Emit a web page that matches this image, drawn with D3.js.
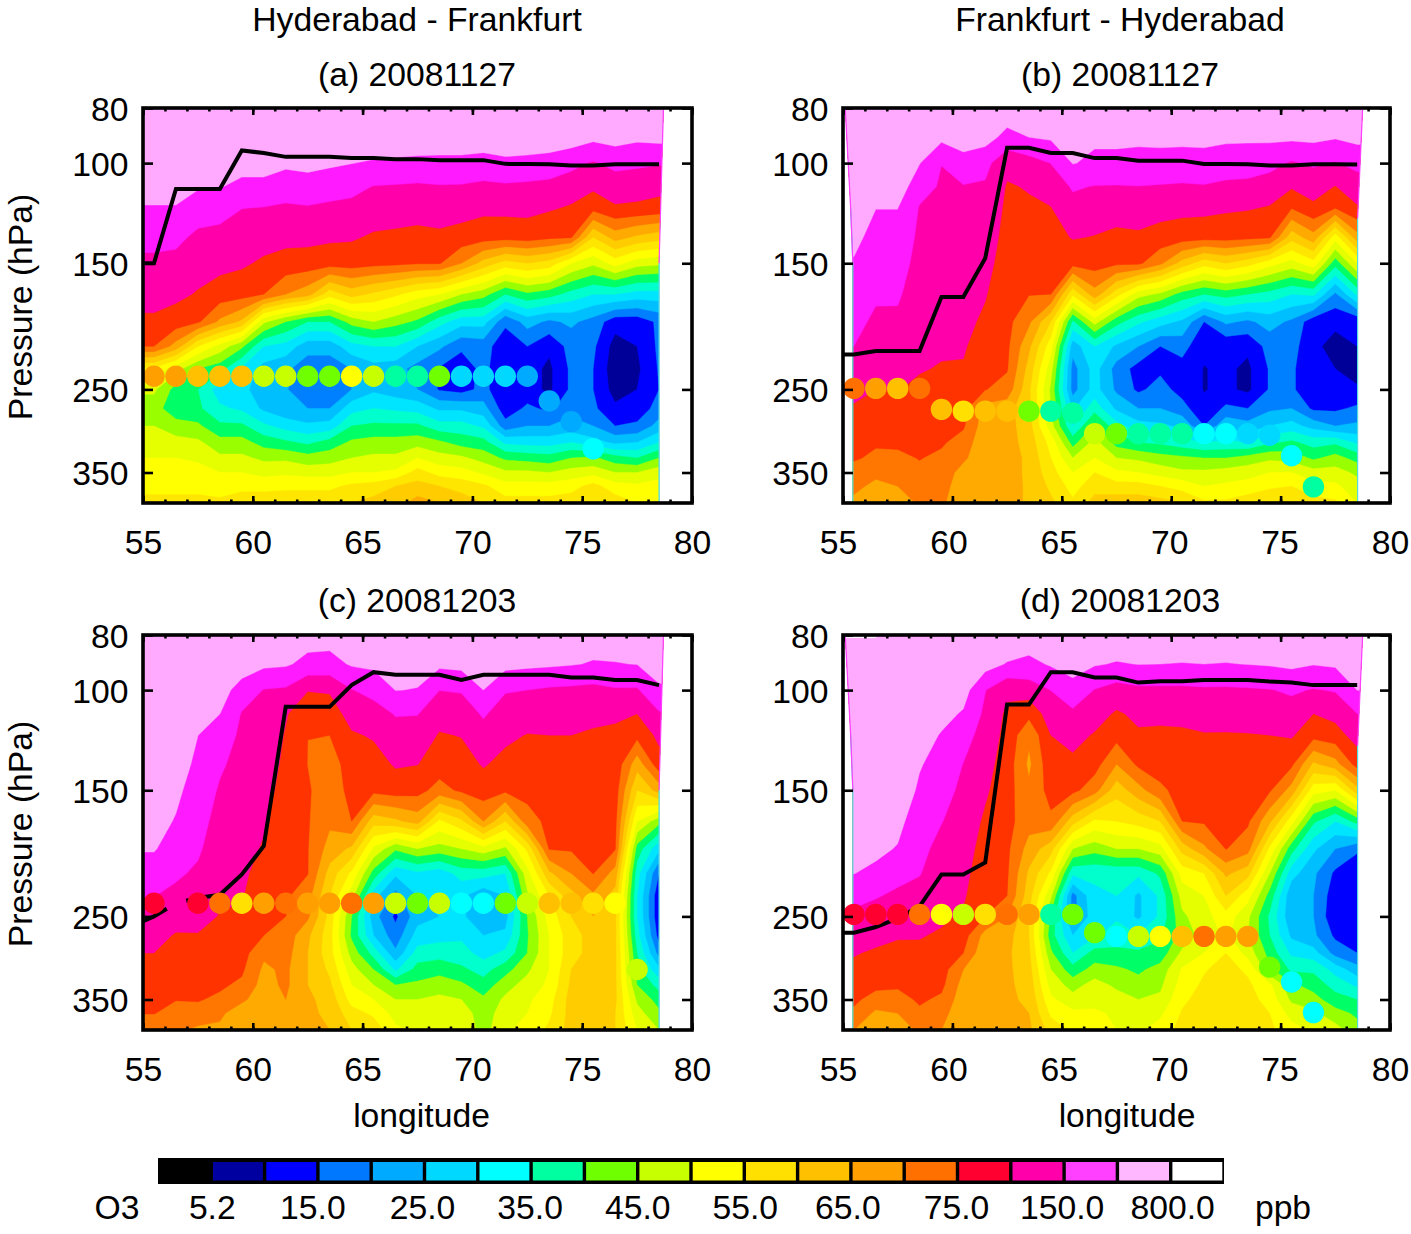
<!DOCTYPE html>
<html>
<head>
<meta charset="utf-8">
<title>O3 cross sections</title>
<script src="https://d3js.org/d3.v7.min.js"></script>
<style>
  body { margin: 0; background: #fff; }
  text { font-family: "Liberation Sans", Arial, sans-serif; font-size: 33.7px; fill: #000; }
  .axis text { font-family: "Liberation Sans", Arial, sans-serif; font-size: 33.7px; }
</style>
</head>
<body>
<svg id="chart" width="1411" height="1234"></svg>
<script>
// colour bar boundaries (ppb) and the two palettes of the original
var thresholds = [5.2, 10, 15, 20, 25, 30, 35, 40, 45, 50, 55, 60, 65, 70, 75, 100, 150, 300, 800];
var legendLabels = ["5.2", "15.0", "25.0", "35.0", "45.0", "55.0", "65.0", "75.0", "150.0", "800.0"];
var legendColors = ["#000000", "#0000a0", "#0000ff", "#0078ff", "#00aaff", "#00d8ff", "#00ffff", "#00ffa0", "#70ff00", "#c8ff00",
  "#ffff00", "#ffe000", "#ffc000", "#ffa000", "#ff7000", "#ff0030", "#ff00aa", "#ff40ff", "#ffb8ff", "#ffffff"];
var fillColors = ["#000000", "#000099", "#0000ff", "#0080ff", "#00bfff", "#00e5ff", "#00ffcc", "#00ff66", "#99ff00", "#e6ff00",
  "#ffff00", "#ffe600", "#ffcc00", "#ffaa00", "#ff7700", "#ff3300", "#ff00aa", "#ff1aff", "#ffaaff", "#ffffff"];

var pressureLevels = [80, 90, 100, 110, 120, 135, 150, 170, 190, 210, 230, 250, 270, 290, 310, 330, 350, 370, 396];
var gridLons = d3.range(55.5, 79, 1); // one profile per degree
var lineLons = [55].concat(gridLons);
var xTicks = [55, 60, 65, 70, 75, 80];
var xMinor = d3.range(55, 81, 1);
var yTicks = [80, 100, 150, 250, 350];

// O3 (ppb), one row per longitude, top level first
var o3A = [
[700,700,600,500,290,194,140,117,96,75,54,46,42,45,48,50,52,54,56],
[700,700,600,500,290,183,137,111,89,68,47,38,37,42,47,50,52,54,56],
[700,700,550,350,219,140,121,98,79,55,40,35,36,41,46,49,52,54,56],
[700,700,550,330,205,135,114,89,69,48,37,27,31,36,42,46,50,53,56],
[700,700,520,255,152,127,107,85,64,41,29,27,29,36,42,46,50,54,57],
[700,700,520,255,148,120,96,75,46,30,23,21,24,31,38,44,48,54,57],
[700,600,390,225,142,113,91,70,40,28,21,20.5,21,28,36,44,49,54,58],
[700,600,430,240,146,113,89,67,35,22,17,16,20,26,34,42,48,54,58],
[700,600,370,218,140,108,86,57,35,22,17,16,20,27,37,43,48,54,58],
[700,600,310,195,136,105,87,62,42,28,20,20,28,35,41,45,50,56,60],
[700,600,285,148,125,97,83,59,45,30,23,24,30,36,42,46,50,57,62],
[700,600,275,146,123,95,81,56,42,30,22,22,29,36,42,46,51,60,63],
[700,600,265,143,119,93,77,52,39,25,18,20,28,36,43,50,57,62,67],
[700,600,260,147,123,95,77,50,32,21,14.5,14.5,24,32,41,47,53,60,65],
[700,600,260,146,120,90,70,45,27,16,12,13,24,32,38,46,52,58,63],
[700,600,240,140,111,86,63,42,27,17,16.5,16.5,22,29,37,43,49,56,60],
[700,600,270,143,113,84,58,35,16,12,11,11,12,17,29,39,46,52,57],
[700,600,260,140,113,87,60,39,22,15,12,12,16,20,28,38,46,52,57],
[700,600,240,136,105,80,58,37,19,11,9,9,14,20,28,37,45,52,57],
[700,560,190,125,97,77,50,33,21,17,16,16,18,22,30,40,47,53,58],
[700,420,145,109,83,60,46,30,18,16,15,15,16,20,27,41,48,57,60],
[700,500,190,125,97,67,52,30,12,8,7,8,11,15,24,37,45,52,58],
[700,400,175,122,95,64,47,28,12,10,9,10,12,16,25,35,45,51,55],
[700,450,160,115,91,62,46,28,16,16,15.5,15,17,22,30,40,48,52,55]
];
var o3B = [
[700,700,700,700,600,400,290,237,192,150,132,111,98,90,84,78,73,71,69],
[700,700,700,600,305,260,219,171,141,125,111,100,92,85,78,74,71,69,67],
[700,700,700,600,305,260,219,170,141,125,112,101,92,85,79,74,72,70,66],
[700,700,320,200,147,139,132,123,116,109,102,97,91,85,81,76,74,72,71],
[700,425,152,145,139,132,125,117,110,104,99,93,87,82,78,74,73,72,71],
[700,500,255,147,142,135,127,119,112,105,98,91,84,78,73,71,68,67,66],
[700,500,195,144,136,125,115,103,96,88,81,76,68,67,66,66,66,66,66],
[600,255,113,98,95,92,89,85,82,80,77,73,67,67,67,67,67,67.5,67.5],
[500,305,130,103,97,90,84,76,71,66,63,61,61,62,63,64,64,64,64],
[500,370,153,122,99,91,83,75,60,52,47,44,45,47,53,55,57,59,61],
[500,400,320,165,135,103,84,56,34,22,18,18,24,30,38,45,50,53,56],
[500,370,275,148,125,99,86,68,47,30,27,27,33,41,47,50,55,58,62],
[500,370,275,147,122,94,80,57,37,24,18,19,24,32,38,45,51,57,63],
[500,370,265,149,124,96,80,47,31,20,13,14,20,27,35,44,50,57,63],
[500,370,270,146,118,90,71,44,27,15,14,17,20,26,34,42,48,55,62],
[500,370,265,143,113,87,63,38,24,17,13,13,17,24,32,41,46,53,60],
[500,370,270,146,112,85,57,35,15,11,9.8,9.8,11,15,30,40,46,50,56],
[500,370,240,138,106,85,60,37,21,11,11,11,16,24,31,40,47,51,56],
[500,370,230,136,103,82,57,35,19,11,9,9,15,22,30,42,48,52,58],
[500,400,195,127,98,78,52,33,22,17,15.5,15.5,19,25,34,44,50,54,60],
[500,400,145,105,76,62,48,30,19,17,16,16,20,27,36,43,50,55,60],
[500,420,170,120,95,68,53,31,12,11,10.5,10.5,14,23,33,39,47,52,57],
[500,340,147,99,75,52,37,19,11,8.5,10,11,14,20,34,42,47,51,56],
[500,450,185,130,97,68,50,31,11,10,8.5,10.5,16,21,29,38,44,47,50]
];
var o3C = [
[700,700,700,700,700,700,600,470,340,225,153,132,116,100,93,87,81,76,71],
[700,700,700,700,700,550,400,290,225,170,140,120,98,92,87,82,76,73,71],
[700,700,700,450,305,265,235,200,170,143,128,112,99,92,87,82,77,73,69],
[700,700,500,305,225,170,145,134,124,115,107,99,93,88,83,79,74,71,69],
[700,550,240,147,141,134,128,121,114,108,103,97,91,85,79,74,71,67,65],
[700,400,148,141,134,124,115,105,98,92,85,80,75,71,69,68,67,66,66],
[700,360,143,104,98,95,92,88,85,82,79,75,73,72,71,71,70,68,66],
[500,260,102,85,75.1,74.9,78,77,76,76,72,71,66,65,65,65,66,66,66],
[500,250,105,87,75.1,72,72,71,68,63,60,58,57,57,59,61,63,64,65],
[600,350,148,120,97,90,83,75,64,54,47,40,39,43,47,50,53,57,60],
[600,400,200,128,105,90,82,62,49,38,27,22,25,33,40,45,50,54,58],
[600,450,310,160,130,105,87,64,41,26,18,14,17,21,29,40,45,48,51],
[600,450,295,156,128,101,84,67,45,29,25,23,27,32,37,41,45,47,49],
[600,400,152,120,98,88,73,54,43,27,25,25,28,33,38,43,46,48,50],
[600,450,160,128,102,90,80,59,45,32,26,26,29,32,36,41,45,47,49],
[600,600,300,165,135,104,88,70,48,32,21,21,25,28,33,37,41,43,43],
[600,450,160,130,110,93,80,60,44,30,25,23,26,31,38,43,46,47,49],
[600,400,150,125,99,91,83,73,56,48,44,40,39.5,40,44,47,49,50,52],
[600,370,143,118,100,94,89,81,77,64,55,52,50,50,50,51,53,54,56],
[600,330,140,115,100,95,91,84,78,70,63,60,58,58,60,61,62,62,62],
[500,290,136,108,98,94,90,85,80,76,69,65,62,62,62,62,62,62,63],
[500,295,145,105,97,92,87,82,77,68,63,61,61,61,61,61,61,60,60],
[500,310,145,100,82,67,60,50,38,32,30,30,32,35,37,40,44,47,50],
[600,500,280,145,112,90,67,42,26,15,11,11,13,18,26,33,38,41,45]
];
var o3D = [
[810,700,700,700,700,700,700,600,450,310,190,141,122,103,95,88,80,74,70],
[810,700,700,700,700,700,700,600,420,265,160,132,113,97,89,81,73,69,66],
[700,700,700,700,700,700,650,450,290,190,142,122,104,94,86,79,73,70,67],
[700,700,700,650,500,340,275,210,185,157,135,118,103,95,90,84,79,74,71],
[700,700,650,450,290,240,205,155,137,125,117,108,97,90,86,81,74,72,70],
[700,700,500,285,205,149,139,130,122,114,106,97,86,75,70,68,67,66,66],
[700,500,155,140,131,118,107,96,90,85,80,75,68,66,66,66,66,66,66],
[700,290,110,95,92,88,85,83,80,78,75,70,67,66,66,66,66,66,66],
[600,260,125,82,71,69,71,72,68,64,62,60,60,61,62,63,64,65,66],
[600,350,152,125,100,92,84,74,62,54,46,39,37,41,45,48,51,54,58],
[600,450,260,140,115,95,82,62,45,31,18,18,25,30,37,43,47,51,54],
[700,340,148,120,98,85,72,54,42,31,29,28,29,37,42,47,48,51,53],
[600,290,130,97,84,70,62,55,45,31,30,29,33,36,41,44,47,49,50],
[600,310,140,110,97,80,68,57,45,31,24,24,30,36,39,42,45,47,49],
[600,300,140,110,96,86,74,60,48,36,31,31,34,37,42,44,46,49,52],
[600,295,140,110,97,90,84,75,62,52,47,44,42,46,50.5,52,54,55.5,57],
[600,300,143,113,99,93,86,78,69,55,50,48,47,50,54.5,56,57,57,58],
[600,295,143,112,99,94,89,82,76,66,60,53,51,55,57,58,58,58.5,59],
[600,310,145,118,99,93,87,79,72,62,52,46,45,48,54,56,57,57,58],
[600,340,148,122,100,90,78,66,54,45,38,34,35,38,41,51,53,55,56],
[600,400,170,130,105,80,68,52,37,27,21,21,24,29,34,41,44,48,52],
[600,320,147,100,84,64,52,36,26,21,20,20,21,27,34,38,42,46,49],
[600,370,160,115,90,68,50,30,20,14,12,11,14,18,28,33,37,42,47],
[600,480,305,150,120,85,63,37,16,11,10,10,12,15,22,29,35,39,42]
];

// tropopause pressure (hPa) along lineLons
var tropA = [150,150,111,111,111,95,96,97.5,97.5,97.5,98,98,98.4,98.4,98.8,98.8,98.8,100.3,100.4,100.5,101,101,100.5,100.5,100.5];
var tropB = [217,217,214,214,214,172,172,147,94,94,96,96,98,98,99,99,99,100.4,100.4,100.5,101,101,100.5,100.5,100.6];
var tropC = [255,250,237,232,229,211,188,107,107,107,98,93,94,94,94,96,94,94,94,94,95,95,96,96,98];
var tropD = [267,267,261,252,240,211,211,201,106,106,93,93,95,95,97,96.5,96.5,96,96,96,96.6,97,98,98,98];

// aircraft samples, first one at 55.5E then one per degree
var flightPresA = [237,237,237,237,237,237,237,237,237,237,237,237,237,237,237,237,237,237,262,285,318];
var flightO3A = [67,67,62,62,62,47,47,42,42,52,47,37,37,42,27,27,27,22,22,22,32];
var flightPresB = [249,249,249,249,271,273,273,273,273,273,275,299,299,299,299,299,299,299,299,301,327,371];
var flightO3B = [72,67,62,72,62,57,62,62,42,37,37,47,42,37,37,37,32,32,27,27,32,37];
var flightPresC = [237,237,237,237,237,237,237,237,237,237,237,237,237,237,237,237,237,237,237,237,237,237,310];
var flightO3C = [80,120,80,72,57,67,72,67,67,72,67,47,42,47,32,32,42,47,62,62,57,52,47];
var flightPresD = [248,248,248,248,248,248,248,248,248,248,248,267,271,271,271,271,271,271,271,307,326,369];
var flightO3D = [80,80,80,72,52,47,57,72,67,37,42,42,32,47,52,62,72,67,67,42,32,32];

// edges of the contoured area: [lon, hPa]
var edgeLeftA = [[55, 80], [55, 396]];
var edgeLeftB = [[55.1, 80], [55.35, 120], [55.45, 150], [55.45, 396]];
var edgeRightA = [[78.7, 80], [78.5, 150], [78.5, 396]];
var edgeRightB = [[78.75, 80], [78.52, 125], [78.52, 396]];

var panels = [
  {id: "a", title: "(a) 20081127", left: 143, right: 692, top: 108, o3: o3A, trop: tropA, pres: flightPresA, fl: flightO3A, el: edgeLeftA, er: edgeRightA, ylab: true},
  {id: "b", title: "(b) 20081127", left: 843, right: 1390, top: 108, o3: o3B, trop: tropB, pres: flightPresB, fl: flightO3B, el: edgeLeftB, er: edgeRightB, ylab: false},
  {id: "c", title: "(c) 20081203", left: 143, right: 692, top: 635, o3: o3C, trop: tropC, pres: flightPresC, fl: flightO3C, el: edgeLeftA, er: edgeRightA, ylab: true},
  {id: "d", title: "(d) 20081203", left: 843, right: 1390, top: 635, o3: o3D, trop: tropD, pres: flightPresD, fl: flightO3D, el: edgeLeftB, er: edgeRightB, ylab: false}
];

var svg = d3.select("#chart");
var panelHeight = 395;
var ringLons = [55].concat(gridLons, [78.8]);
// contours are traced on the colour bar index, so each band gets equal weight
var bandIndex = d3.scaleLinear().domain(thresholds).range(d3.range(1, 20));
var circleColor = d3.scaleThreshold().domain(thresholds).range(legendColors);

panels.forEach(function (p) {
  var x = d3.scaleLinear().domain([55, 80]).range([p.left, p.right]);
  var y = d3.scaleLog().domain([80, 396]).range([p.top, p.top + panelHeight]);
  var g = svg.append("g");

  // padded grid, rows = levels, columns = longitudes
  var nx = ringLons.length, ny = pressureLevels.length;
  var columns = [p.o3[0]].concat(p.o3, [p.o3[p.o3.length - 1]]);
  var values = [];
  for (var j = 0; j < ny; j++) {
    for (var i = 0; i < nx; i++) values.push(bandIndex(columns[i][j]));
  }

  var colX = d3.scaleLinear().domain(d3.range(nx)).range(ringLons.map(function (d) { return x(d); })).clamp(true);
  var rowY = d3.scaleLinear().domain(d3.range(ny)).range(pressureLevels.map(function (d) { return y(d); })).clamp(true);
  var path = d3.geoPath(d3.geoTransform({
    point: function (a, b) { this.stream.point(colX(a - 0.5), rowY(b - 0.5)); }
  }));

  var clipPts = p.el.concat(p.er.slice().reverse()).map(function (d) { return [x(d[0]), y(d[1])]; });
  g.append("clipPath").attr("id", "clip-" + p.id)
    .append("polygon").attr("points", clipPts.join(" "));

  var contours = d3.contours().size([nx, ny]).thresholds(d3.range(1, 20))(values);
  g.append("g").attr("clip-path", "url(#clip-" + p.id + ")")
    .selectAll("path").data(contours).join("path")
    .attr("d", path)
    .attr("fill", function (d) { return fillColors[d.value]; })
    .attr("stroke", function (d) { return fillColors[d.value]; })
    .attr("stroke-width", 0.4);

  // thin coloured seam on the slanted sides
  var seam = d3.line().x(function (d) { return x(d[0]); }).y(function (d) { return y(d[1]); });
  [p.el, p.er].forEach(function (e) {
    if (e[0][0] === 55) return;
    g.append("path").attr("d", seam(e.filter(function (d) { return d[1] >= 120; })))
      .attr("fill", "none").attr("stroke", "#55dde0").attr("stroke-width", 1.2);
    g.append("path").attr("d", seam(e.filter(function (d) { return d[1] <= 150; })))
      .attr("fill", "none").attr("stroke", "#ff40ff").attr("stroke-width", 1.2);
  });

  // tropopause
  var line = d3.line().x(function (d, i) { return x(lineLons[i]); }).y(function (d) { return y(d); });
  g.append("path").attr("d", line(p.trop))
    .attr("fill", "none").attr("stroke", "#000").attr("stroke-width", 4).attr("stroke-linejoin", "miter");

  // aircraft measurements
  g.selectAll("circle").data(p.fl).join("circle")
    .attr("cx", function (d, i) { return x(gridLons[i]); })
    .attr("cy", function (d, i) { return y(p.pres[i]); })
    .attr("r", 10.7)
    .attr("fill", function (d) { return circleColor(d); });

  // frame and axes
  var bottomY = p.top + panelHeight;
  var noLabel = function () { return ""; };
  // the right column's labels sit a little left of their ticks
  var labelShift = d3.scaleLinear().domain([55, 80]).range(p.left > 400 ? [-5, 0] : [0, 0]);
  var axX = g.append("g").attr("class", "axis").attr("transform", "translate(0," + bottomY + ")")
    .call(d3.axisBottom(x).tickValues(xTicks).tickSize(-7).tickPadding(27).tickFormat(d3.format("d")));
  axX.selectAll("text").attr("dx", function (d) { return labelShift(d); });
  g.append("g").attr("class", "axis").attr("transform", "translate(0," + bottomY + ")")
    .call(d3.axisBottom(x).tickValues(xMinor).tickSize(-3.5).tickFormat(noLabel));
  g.append("g").attr("class", "axis").attr("transform", "translate(0," + p.top + ")")
    .call(d3.axisTop(x).tickValues(xTicks).tickSize(-7).tickFormat(noLabel));
  g.append("g").attr("class", "axis").attr("transform", "translate(0," + p.top + ")")
    .call(d3.axisTop(x).tickValues(xMinor).tickSize(-3.5).tickFormat(noLabel));
  var axY = g.append("g").attr("class", "axis").attr("transform", "translate(" + p.left + ",0)")
    .call(d3.axisLeft(y).tickValues(yTicks).tickSize(-10).tickPadding(14.5).tickFormat(d3.format("d")));
  axY.selectAll("text").attr("y", 1.5);
  g.append("g").attr("class", "axis").attr("transform", "translate(" + p.right + ",0)")
    .call(d3.axisRight(y).tickValues(yTicks).tickSize(-10).tickFormat(noLabel));
  g.selectAll(".axis .domain").remove();
  g.selectAll(".axis line").attr("stroke", "#000").attr("stroke-width", 2.6);
  g.selectAll(".axis text").attr("fill", "#000");

  g.append("rect")
    .attr("x", p.left).attr("y", p.top)
    .attr("width", p.right - p.left).attr("height", panelHeight)
    .attr("fill", "none").attr("stroke", "#000").attr("stroke-width", 3.6);

  g.append("text").attr("x", p.left < 400 ? 417 : 1120).attr("y", p.top < 400 ? 86 : 612)
    .attr("text-anchor", "middle").text(p.title);

  if (p.ylab) {
    g.append("text")
      .attr("transform", "translate(32," + (p.top + 199) + ") rotate(-90)")
      .attr("text-anchor", "middle").text("Pressure (hPa)");
  }
});

// column headings and x titles
svg.append("text").attr("x", 417).attr("y", 31).attr("text-anchor", "middle").text("Hyderabad - Frankfurt");
svg.append("text").attr("x", 1120).attr("y", 31).attr("text-anchor", "middle").text("Frankfurt - Hyderabad");
svg.append("text").attr("x", 421.5).attr("y", 1127).attr("text-anchor", "middle").text("longitude");
svg.append("text").attr("x", 1127).attr("y", 1127).attr("text-anchor", "middle").text("longitude");

// colour bar
var barX = d3.scaleLinear().domain([0, legendColors.length]).range([158, 1224]);
var labelNudge = [1, -5, -2, -1, 0, 1, -3, -1, -2, 2];
var bar = svg.append("g");
bar.append("rect").attr("x", 158).attr("y", 1158).attr("width", 1066).attr("height", 26).attr("fill", "#000");
bar.selectAll("rect.box").data(legendColors).join("rect").attr("class", "box")
  .attr("x", function (d, i) { return barX(i) + 1.7; })
  .attr("y", 1162)
  .attr("width", barX(1) - barX(0) - 3.4)
  .attr("height", 18.5)
  .attr("fill", function (d) { return d; });
bar.selectAll("text").data(legendLabels).join("text")
  .attr("x", function (d, i) { return barX(1 + 2 * i) + labelNudge[i]; })
  .attr("y", 1219)
  .attr("text-anchor", "middle")
  .text(function (d) { return d; });
svg.append("text").attr("x", 117).attr("y", 1219).attr("text-anchor", "middle").text("O3");
svg.append("text").attr("x", 1283).attr("y", 1219).attr("text-anchor", "middle").text("ppb");
</script>
</body>
</html>
